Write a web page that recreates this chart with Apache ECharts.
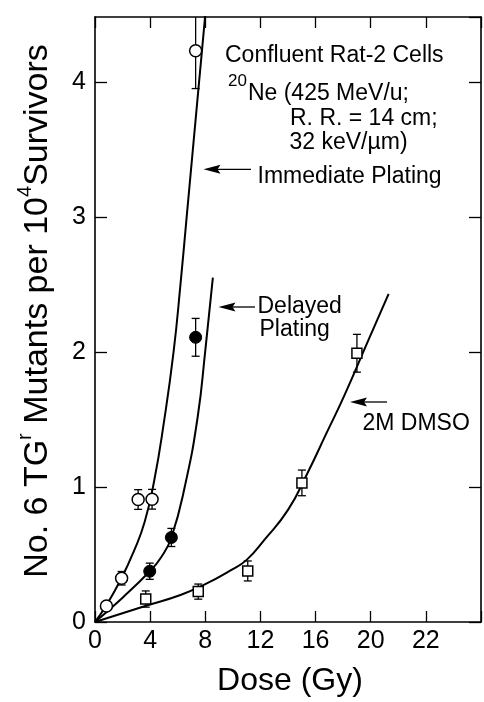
<!DOCTYPE html>
<html>
<head>
<meta charset="utf-8">
<script src="https://cdn.jsdelivr.net/npm/echarts@6/dist/echarts.min.js"></script>
<style>
html,body{margin:0;padding:0;background:#fff;}
#chart{width:484px;height:702px;}
</style>
</head>
<body>
<div id="chart"></div>
<script>
// ---- data ----
const xTickLabels = ['0', '4', '8', '12', '16', '20', '22', ''];
const yTickLabels = ['0', '1', '2', '3', '4'];

// Immediate plating (open circles)
const immDose = [0.83, 1.93, 3.13, 4.14, 7.30];
const immMut  = [0.118, 0.324, 0.907, 0.909, 4.23];
const immErr  = [0, 0.05, 0.073, 0.073, 0.28];

// Delayed plating (filled circles)
const delDose = [3.97, 5.54, 7.30];
const delMut  = [0.376, 0.626, 2.108];
const delErr  = [0.06, 0.067, 0.14];

// 2M DMSO (open squares)
const dmsoDose = [3.68, 7.49, 11.08, 15.01, 19.0];
const dmsoMut  = [0.17, 0.225, 0.378, 1.03, 1.99];
const dmsoErr  = [0.06, 0.056, 0.074, 0.095, 0.14];

// fitted curves
const immFitDose = [0, 0.8, 1.9, 2.8, 3.6, 4.3, 5.0, 5.7, 6.2, 6.65, 7.1, 7.55, 8.0, 8.1];
const immFitMut  = [0, 0.12, 0.32, 0.52, 0.74, 1.05, 1.48, 2.0, 2.5, 3.0, 3.5, 4.0, 4.5, 4.62];
const delFitDose = [0, 2.0, 3.97, 4.8, 5.54, 6.55, 7.45, 8.0, 8.55];
const delFitMut  = [0, 0.18, 0.376, 0.48, 0.626, 1.02, 1.52, 2.01, 2.55];
const dmsoFitDose = [0, 3.7, 6.2, 8.0, 9.8, 11.0, 12.3, 14.0, 15.4, 16.8, 18.1, 19.8, 21.3];
const dmsoFitMut  = [0, 0.12, 0.2, 0.28, 0.38, 0.46, 0.61, 0.83, 1.1, 1.4, 1.68, 2.08, 2.43];

// ---- chart ----
const FONT = '"Liberation Sans", Arial, Helvetica, sans-serif';
const chart = echarts.init(document.getElementById('chart'), null, {renderer: 'canvas'});

const zip = (a, b) => a.map((v, i) => [v, b[i]]);

function errSeries(dose, mut, err) {
  return {
    type: 'custom',
    silent: true,
    clip: true,
    z: 3,
    data: dose.map((d, i) => [d, mut[i] - err[i], mut[i] + err[i]]),
    encode: {x: 0, y: [1, 2]},
    renderItem: function (params, api) {
      const x = api.value(0), lo = api.value(1), hi = api.value(2);
      if (!(hi > lo)) return {type: 'group', children: []};
      const p1 = api.coord([x, lo]);
      const p2 = api.coord([x, hi]);
      const w = 4;
      const st = {stroke: '#000', lineWidth: 1.3};
      return {
        type: 'group',
        children: [
          {type: 'line', shape: {x1: p1[0], y1: p1[1], x2: p2[0], y2: p2[1]}, style: st},
          {type: 'line', shape: {x1: p1[0] - w, y1: p1[1], x2: p1[0] + w, y2: p1[1]}, style: st},
          {type: 'line', shape: {x1: p2[0] - w, y1: p2[1], x2: p2[0] + w, y2: p2[1]}, style: st}
        ]
      };
    }
  };
}

function curve(dose, mut) {
  return {
    type: 'line',
    data: zip(dose, mut),
    showSymbol: false,
    symbol: 'none',
    smooth: 0.5,
    clip: true,
    z: 2,
    lineStyle: {color: '#000', width: 2},
    silent: true
  };
}

function arrow(tipX, tipY, tailX) {
  return [
    {type: 'line', shape: {x1: tipX + 10, y1: tipY, x2: tailX, y2: tipY},
     style: {stroke: '#000', lineWidth: 1.3}},
    {type: 'polygon', shape: {points: [[tipX, tipY], [tipX + 17, tipY - 4.5], [tipX + 14, tipY], [tipX + 17, tipY + 4.5]]},
     style: {fill: '#000'}}
  ];
}

function label(text, x, y, size) {
  return {
    type: 'text', x: x, y: y, silent: true,
    style: {text: text, font: (size || 23) + 'px ' + FONT, fill: '#000',
            align: 'left', verticalAlign: 'middle', textAlign: 'left', textVerticalAlign: 'middle'}
  };
}

const axisLineStyle = {color: '#000', width: 1.6};

const option = {
  animation: false,
  backgroundColor: '#fff',
  grid: {left: 95, right: 2, top: 17, bottom: 80, containLabel: false},
  xAxis: [
    {
      type: 'value', min: 0, max: 28, interval: 4, position: 'bottom',
      axisLine: {show: true, onZero: false, lineStyle: axisLineStyle},
      axisTick: {show: true, inside: true, length: 11, lineStyle: {color: '#000', width: 1.3}},
      axisLabel: {
        color: '#000', fontFamily: FONT, fontSize: 25, margin: 7,
        formatter: v => { const i = Math.round(v / 4); return xTickLabels[i] !== undefined ? xTickLabels[i] : ''; }
      },
      splitLine: {show: false}
    },
    {
      type: 'value', min: 0, max: 28, interval: 4, position: 'top',
      axisLine: {show: true, onZero: false, lineStyle: axisLineStyle},
      axisTick: {show: true, inside: true, length: 11, lineStyle: {color: '#000', width: 1.3}},
      axisLabel: {show: false},
      splitLine: {show: false}
    }
  ],
  yAxis: [
    {
      type: 'value', min: 0, max: 4.48, interval: 1, position: 'left',
      axisLine: {show: true, onZero: false, lineStyle: axisLineStyle},
      axisTick: {show: true, inside: true, length: 12, lineStyle: {color: '#000', width: 1.3}},
      axisLabel: {
        color: '#000', fontFamily: FONT, fontSize: 25, margin: 9, showMaxLabel: false,
        formatter: v => { const i = Math.round(v); return (Math.abs(v - i) < 1e-6 && yTickLabels[i] !== undefined) ? yTickLabels[i] : ''; }
      },
      splitLine: {show: false}
    },
    {
      type: 'value', min: 0, max: 4.48, interval: 1, position: 'right',
      axisLine: {show: true, onZero: false, lineStyle: axisLineStyle},
      axisTick: {show: true, inside: true, length: 12, lineStyle: {color: '#000', width: 1.3}},
      axisLabel: {show: false},
      splitLine: {show: false}
    }
  ],
  series: [
    curve(immFitDose, immFitMut),
    curve(delFitDose, delFitMut),
    curve(dmsoFitDose, dmsoFitMut),
    errSeries(immDose, immMut, immErr),
    errSeries(delDose, delMut, delErr),
    errSeries(dmsoDose, dmsoMut, dmsoErr),
    {
      type: 'scatter', data: zip(immDose, immMut), symbol: 'circle', symbolSize: 12, z: 5,
      itemStyle: {color: '#fff', borderColor: '#000', borderWidth: 1.5, opacity: 1}, silent: true
    },
    {
      type: 'scatter', data: zip(delDose, delMut), symbol: 'circle', symbolSize: 12, z: 5,
      itemStyle: {color: '#000', borderColor: '#000', borderWidth: 1, opacity: 1}, silent: true
    },
    {
      type: 'scatter', data: zip(dmsoDose, dmsoMut), symbol: 'rect', symbolSize: 10, z: 5,
      itemStyle: {color: '#fff', borderColor: '#000', borderWidth: 1.5, opacity: 1}, silent: true
    }
  ],
  graphic: [
    // axis titles
    {
      type: 'text', x: 38, y: 311, rotation: Math.PI / 2, silent: true,
      style: {
        text: '{a|No. 6 TG}{s|r}{a| Mutants per 10}{s|4}{a|Survivors}',
        align: 'center', verticalAlign: 'middle', textAlign: 'center', textVerticalAlign: 'middle',
        fill: '#000',
        rich: {
          a: {fontFamily: FONT, fontSize: 34, lineHeight: 34, color: '#000', verticalAlign: 'middle'},
          s: {fontFamily: FONT, fontSize: 20, lineHeight: 20, color: '#000', verticalAlign: 'middle', padding: [0, 0, 25, 0]}
        }
      }
    },
    {
      type: 'text', x: 290, y: 681, silent: true,
      style: {text: 'Dose (Gy)', font: '32px ' + FONT, fill: '#000',
              align: 'center', verticalAlign: 'middle', textAlign: 'center', textVerticalAlign: 'middle'}
    },
    // annotations
    label('Confluent Rat-2 Cells', 225, 55.5),
    {
      type: 'text', x: 228, y: 93.3, silent: true,
      style: {
        text: '{s|20}{a|Ne (425 MeV/u;}',
        align: 'left', verticalAlign: 'middle', textAlign: 'left', textVerticalAlign: 'middle',
        fill: '#000',
        rich: {
          a: {fontFamily: FONT, fontSize: 23, lineHeight: 23, color: '#000', verticalAlign: 'middle'},
          s: {fontFamily: FONT, fontSize: 17, lineHeight: 17, color: '#000', verticalAlign: 'middle', padding: [0, 1, 24, 0]}
        }
      }
    },
    label('R. R. = 14 cm;', 290, 118.7),
    label('32 keV/\u00b5m)', 289.5, 142.5),
    label('Immediate Plating', 257.5, 176.7),
    label('Delayed', 257.5, 306.7),
    label('Plating', 259.5, 330),
    label('2M DMSO', 362.5, 424),
    ...arrow(203.5, 169.3, 251),
    ...arrow(218.5, 307, 255),
    ...arrow(350, 402, 387)
  ]
};

chart.setOption(option);
</script>
</body>
</html>
